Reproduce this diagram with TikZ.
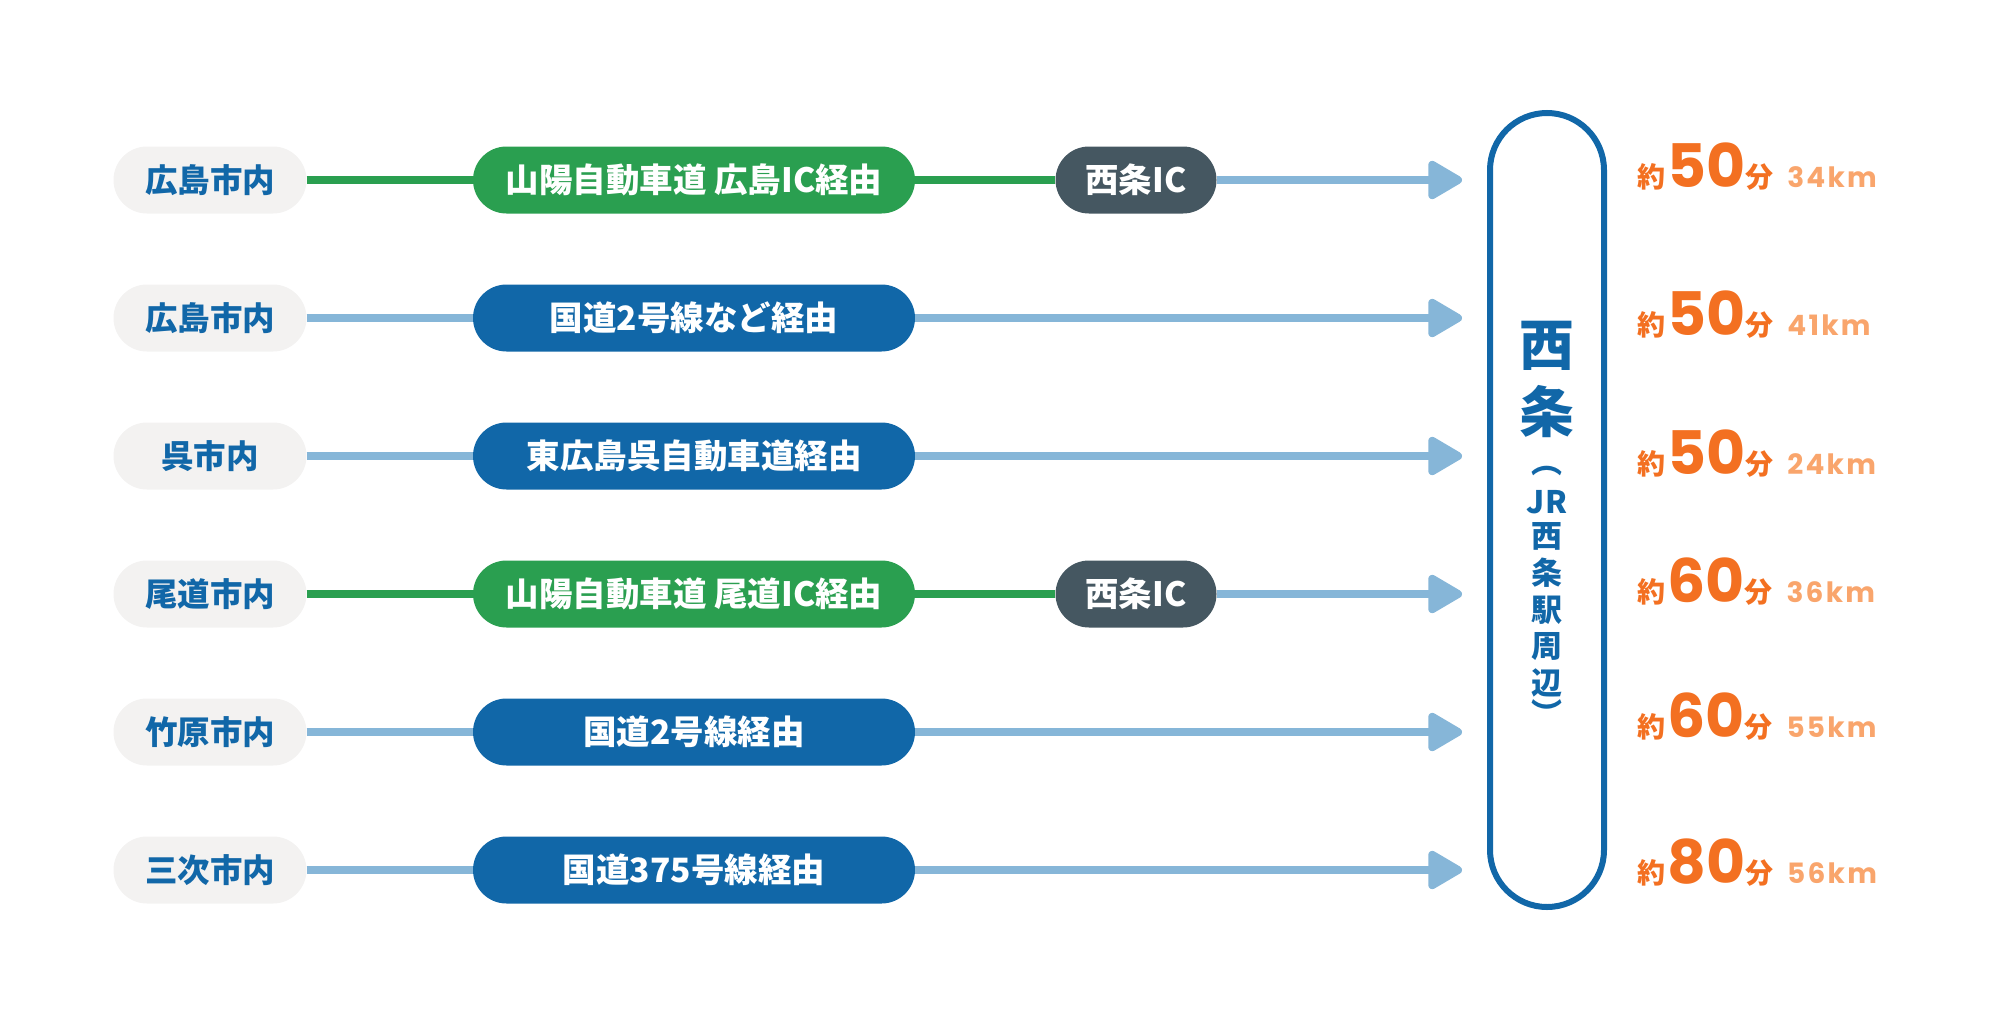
\documentclass[tikz,border=0pt]{standalone}
\usepackage{fontspec}
\usepackage{xcolor}
\usepackage{tikz}
\usetikzlibrary{arrows.meta, positioning, calc}
\setmainfont{Noto Sans CJK JP}
\newfontfamily\numfont{Poppins}
\newfontfamily\kmfont{Poppins}[LetterSpace=8]
\definecolor{roadblue}{HTML}{1167A8}
\definecolor{hwygreen}{HTML}{2A9F50}
\definecolor{icgray}{HTML}{455761}
\definecolor{citygray}{HTML}{F3F2F1}
\definecolor{lineblue}{HTML}{86B6D8}
\definecolor{timeorange}{HTML}{F37021}
\definecolor{kmorange}{HTML}{F9A56C}
\newcommand{\traveltime}[2]{{\fontsize{28bp}{28bp}\selectfont 約}\kern2bp{\numfont\bfseries\fontsize{60bp}{60bp}\selectfont #1}{\fontsize{28bp}{28bp}\selectfont 分}\hspace{14bp}{\color{kmorange}\kmfont\bfseries\fontsize{28bp}{28bp}\selectfont #2}}

\begin{document}
\begin{tikzpicture}[x=1bp, y=-1bp,
    pill/.style={rounded corners=33.5bp, minimum height=67bp, inner sep=0pt,
      font=\bfseries\fontsize{33.5bp}{33.5bp}\selectfont},
    city/.style={pill, fill=citygray, text=roadblue, minimum width=193bp,
      font=\bfseries\fontsize{32.5bp}{32.5bp}\selectfont},
    route/.style={pill, fill=roadblue, text=white, minimum width=442bp},
    hwyroute/.style={route, fill=hwygreen},
    icbox/.style={pill, fill=icgray, text=white, minimum width=161bp},
    hwy/.style={draw=hwygreen, line width=8bp},
    road/.style={draw=lineblue, line width=8bp},
    toarrow/.style={road, -{Triangle[length=38bp, width=42bp, round]}},
    stbig/.style={text=roadblue, inner sep=0pt, font=\bfseries\fontsize{55bp}{55bp}\selectfont},
    stsmall/.style={text=roadblue, inner sep=0pt, font=\bfseries\fontsize{31bp}{31bp}\selectfont},
    time/.style={anchor=base west, inner sep=0pt, text=timeorange, font=\bfseries}]
    \useasboundingbox (0,0) rectangle (2000,1020);

    % station
    \node[draw=roadblue, line width=6bp, rounded corners=57bp, minimum width=114bp,
      minimum height=794bp, inner sep=0pt] (st) at (1547,510) {};
    \node[stbig] (sai) at (1547,346) {西};
    \node[stbig] (jo) at (1547,412) {条};
    \foreach \ch/\yy [count=\k] in {︵/471, JR/502, 西/536, 条/573, 駅/610, 周/647, 辺/683, ︶/713}
      \node[stsmall] (jr\k) at (1547,\yy) {\ch};

    % arrow ends
    \coordinate (e1) at (1462,180);
    \coordinate (e2) at (1462,318);
    \coordinate (e3) at (1462,456);
    \coordinate (e4) at (1462,594);
    \coordinate (e5) at (1462,732);
    \coordinate (e6) at (1462,870);

    % routes
    \node[city] (c1) at (210,180) {広島市内};
    \node[hwyroute] (r1) at (694,180) {山陽自動車道 広島IC経由};
    \node[icbox] (ic1) at (1136,180) {西条IC};
    \draw[hwy] (c1) -- (r1);
    \draw[hwy] (r1) -- (ic1);
    \draw[toarrow] (ic1) -- (e1);

    \node[city] (c2) at (210,318) {広島市内};
    \node[route] (r2) at (694,318) {国道2号線など経由};
    \draw[road] (c2) -- (r2);
    \draw[toarrow] (r2) -- (e2);

    \node[city] (c3) at (210,456) {呉市内};
    \node[route] (r3) at (694,456) {東広島呉自動車道経由};
    \draw[road] (c3) -- (r3);
    \draw[toarrow] (r3) -- (e3);

    \node[city] (c4) at (210,594) {尾道市内};
    \node[hwyroute] (r4) at (694,594) {山陽自動車道 尾道IC経由};
    \node[icbox] (ic4) at (1136,594) {西条IC};
    \draw[hwy] (c4) -- (r4);
    \draw[hwy] (r4) -- (ic4);
    \draw[toarrow] (ic4) -- (e4);

    \node[city] (c5) at (210,732) {竹原市内};
    \node[route] (r5) at (694,732) {国道2号線経由};
    \draw[road] (c5) -- (r5);
    \draw[toarrow] (r5) -- (e5);

    \node[city] (c6) at (210,870) {三次市内};
    \node[route] (r6) at (694,870) {国道375号線経由};
    \draw[road] (c6) -- (r6);
    \draw[toarrow] (r6) -- (e6);

    % times
    \node[time] (t1) at (1637,187) {\traveltime{50}{34km}};
    \node[time] (t2) at (1637,335) {\traveltime{50}{41km}};
    \node[time] (t3) at (1637,474) {\traveltime{50}{24km}};
    \node[time] (t4) at (1637,602) {\traveltime{60}{36km}};
    \node[time] (t5) at (1637,737) {\traveltime{60}{55km}};
    \node[time] (t6) at (1637,883) {\traveltime{80}{56km}};
  \end{tikzpicture}
\end{document}
